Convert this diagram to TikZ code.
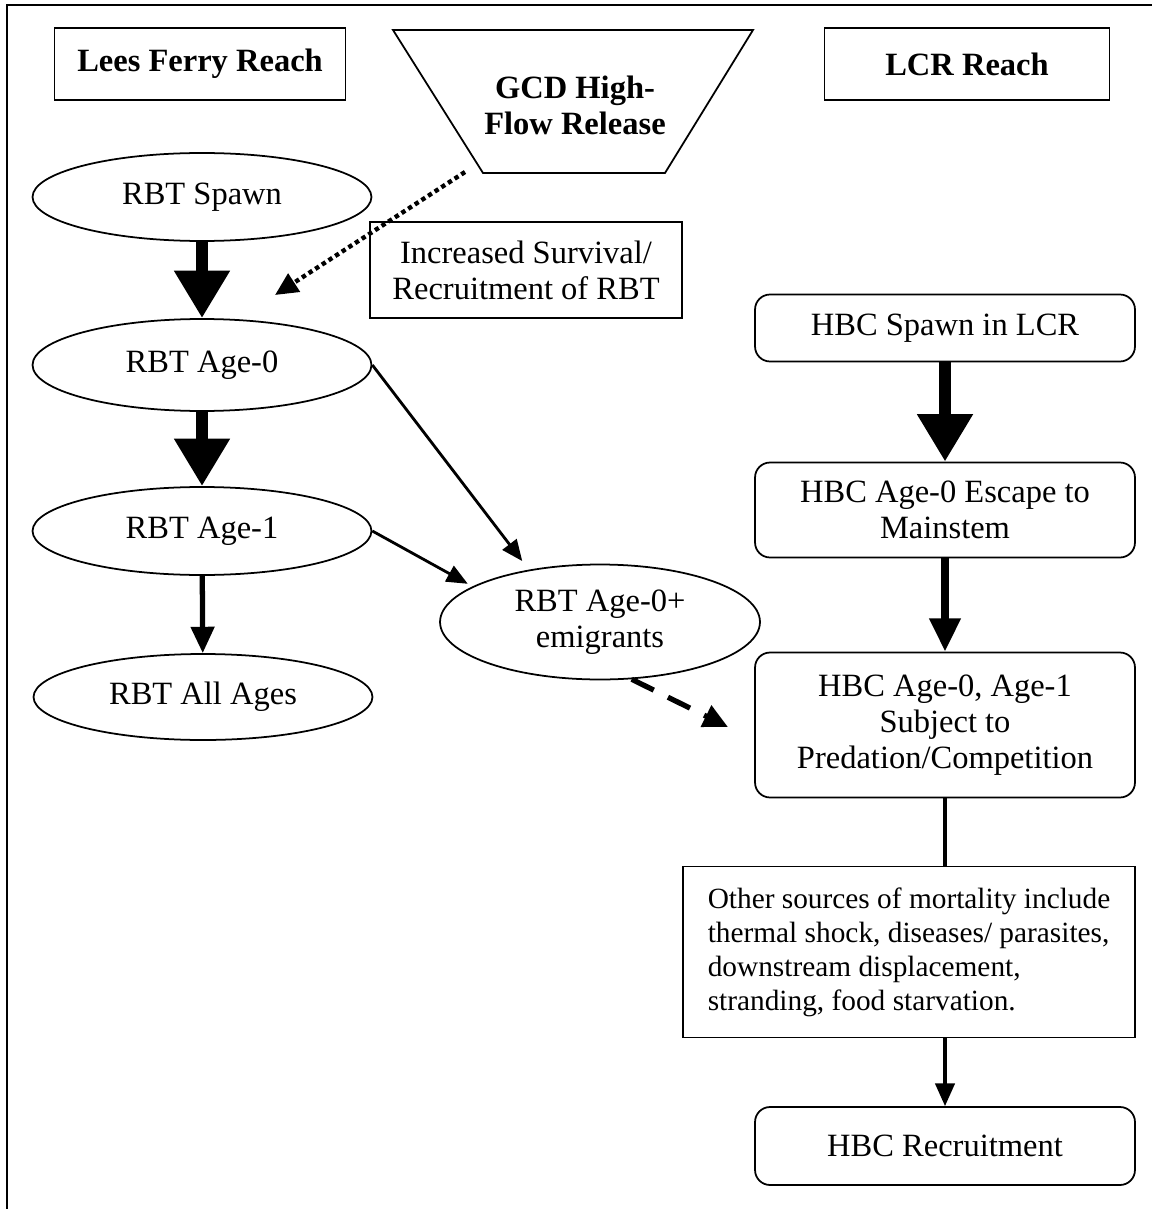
\documentclass[tikz,border=0pt]{standalone}
\usepackage{fontspec}
\setmainfont{Liberation Serif}
\usepackage{tikz}
\usetikzlibrary{positioning,shapes.geometric,arrows.meta,calc}
\newcommand*{\txt}{\fontsize{18.5}{20.5}\selectfont}

\begin{document}
\begin{tikzpicture}[x=0.02cm,y=-0.02cm,line width=1pt,
  every node/.style={font=\txt},
  headbox/.style={draw,minimum height=1.44cm,font=\txt\bfseries},
  rbt/.style={draw,ellipse,inner sep=0pt,minimum width=6.78cm,minimum height=1.76cm},
  hbc/.style={draw,rounded corners=0.3cm,minimum width=7.6cm,align=center},
  bigarrow/.style={-{Triangle[width=30pt,length=27pt]},line width=7pt},
  midarrow/.style={-{Triangle[width=17pt,length=19pt]},line width=4.5pt},
  thinarrow/.style={-{Triangle[width=10pt,length=12pt]},line width=1.6pt}]
% Page and its frame (right and bottom sides fall off the page)
\useasboundingbox (0,0) rectangle (1152,1209);
\draw[line width=1.6pt] (7,1209) -- (7,5) -- (1152,5);
% Headings
\node[headbox,minimum width=5.82cm] (lees) at (200,64) {Lees Ferry Reach};
\node[headbox,minimum width=5.7cm] (lcr) at (967,64) {LCR Reach};
% Release funnel
\coordinate (tl) at (393,30);
\coordinate (tr) at (753,30);
\coordinate (br) at (665,173);
\coordinate (bl) at (483,173);
\draw (tl) -- (tr) -- (br) -- (bl) -- cycle;
\node[align=center,font=\txt\bfseries] (gcd) at (575,105) {GCD High-\\Flow Release};
\node[draw,minimum width=6.24cm,minimum height=1.92cm,align=center] (surv) at (526,270)
  {Increased Survival/\\Recruitment of RBT};
% Rainbow trout, Lees Ferry
\node[rbt] (spawn) at (202,197) {RBT Spawn};
\node[rbt,minimum height=1.84cm] (age0) at (202,365) {RBT Age-0};
\node[rbt] (age1) at (202,531) {RBT Age-1};
\node[rbt,minimum height=1.72cm] (all) at (203,697) {RBT All Ages};
\node[rbt,minimum width=6.4cm,minimum height=2.3cm,align=center] (emig) at (600,622)
  {RBT Age-0+\\emigrants};
% Humpback chub, LCR
\node[hbc,minimum height=1.34cm] (hspawn) at (945,328) {HBC Spawn in LCR};
\node[hbc,minimum height=1.9cm] (escape) at (945,510) {HBC Age-0 Escape to\\Mainstem};
\node[hbc,minimum height=2.9cm] (pred) at (945,725)
  {HBC Age-0, Age-1\\Subject to\\Predation/Competition};
\node[draw,minimum width=9.04cm,minimum height=3.42cm,align=left,
  font=\fontsize{16.7}{19.3}\selectfont] (other) at (909,952)
  {Other sources of mortality include\\thermal shock, diseases/ parasites,\\downstream displacement,\\
   stranding, food starvation.};
\node[hbc,minimum height=1.56cm] (recruit) at (945,1146) {HBC Recruitment};
% Free ends of the dotted and dashed arrows
\coordinate (gcdfoot) at (465,172);
\coordinate (dotend) at (275,295);
\coordinate (dashend) at (728,727);
% Connectors
\draw[bigarrow] (spawn) -- (age0);
\draw[bigarrow] (age0) -- (age1);
\draw[-{Triangle[width=13pt,length=15pt]},line width=3pt] (age1) -- (all);
\draw[thinarrow] (age0.east) -- ([shift={(-10,-8)}]emig.142);
\draw[thinarrow] (age1.east) -- ([shift={(-6,-2)}]emig.164);
\draw[-{Triangle[width=12pt,length=13pt]},line width=2.5pt,dotted] (gcdfoot) -- (dotend);
\draw[-{Triangle[width=13pt,length=14pt]},line width=3pt,dash pattern=on 14pt off 9pt] (emig.-61) -- (dashend);
\draw[bigarrow] (hspawn) -- (escape);
\draw[midarrow] (escape) -- (pred);
\draw[line width=2pt] (pred.south) -- (pred.south |- other.north);
\draw[-{Triangle[width=11pt,length=13pt]},line width=2pt] (recruit.north |- other.south) -- (recruit.north);
\end{tikzpicture}
\end{document}
